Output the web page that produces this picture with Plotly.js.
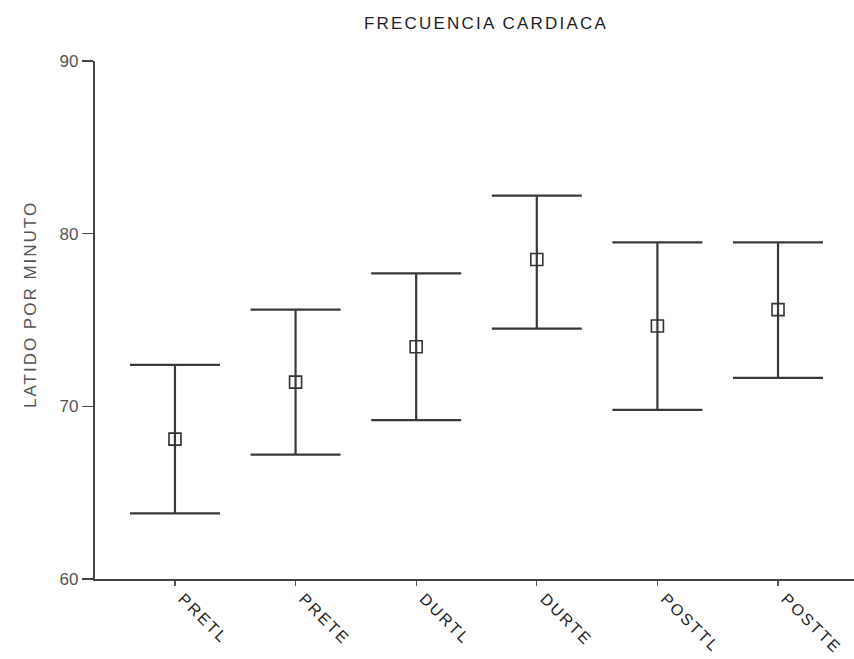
<!DOCTYPE html>
<html>
<head>
<meta charset="utf-8">
<script src="https://cdn.plot.ly/plotly-3.0.1.min.js"></script>
<style>
html,body{margin:0;padding:0;background:#fff;}
#chart{width:854px;height:659px;}
#chart .gtitle{letter-spacing:2.2px;}
#chart .xtick text{letter-spacing:2.2px;}
#chart .annotation-text{letter-spacing:2.0px;}
</style>
</head>
<body>
<div id="chart"></div>
<script>
const categories = ["PRETL", "PRETE", "DURTL", "DURTE", "POSTTL", "POSTTE"];
const means = [68.1, 71.4, 73.45, 78.5, 74.65, 75.6];
const upper = [72.4, 75.6, 77.7, 82.2, 79.5, 79.5];
const lower = [63.8, 67.2, 69.2, 74.5, 69.8, 71.65];
const yTicks = [60, 70, 80, 90];

const xIdx = categories.map((c, i) => i);
const errPlus = upper.map((u, i) => u - means[i]);
const errMinus = lower.map((l, i) => means[i] - l);

const trace = {
  type: "scatter",
  mode: "markers",
  x: xIdx,
  y: means,
  marker: {symbol: "square-open", size: 12, color: "#333", line: {width: 1.6, color: "#333"}},
  error_y: {
    type: "data", symmetric: false, array: errPlus, arrayminus: errMinus,
    color: "#3a3a3a", thickness: 2.2, width: 45
  },
  hoverinfo: "none"
};

const fam = "Liberation Sans, Arial, sans-serif";

const layout = {
  width: 854, height: 659,
  margin: {l: 95, r: 0, t: 61, b: 80},
  paper_bgcolor: "#fff", plot_bgcolor: "#fff",
  showlegend: false,
  font: {family: fam, color: "#444", size: 14},
  title: {
    text: "FRECUENCIA CARDIACA",
    font: {family: fam, size: 17, color: "#1e1e1e"},
    xref: "container", x: 486/854, xanchor: "center",
    yref: "container", y: 1 - 23.5/659, yanchor: "middle"
  },
  xaxis: {
    range: [-0.663, 5.63],
    tickvals: xIdx, ticktext: categories,
    tickangle: 45,
    ticks: "outside", ticklen: 5, tickwidth: 1.2, tickcolor: "#555",
    ticklabelshift: 8, ticklabelstandoff: -3,
    showline: true, linecolor: "#444", linewidth: 2.2,
    showgrid: false, zeroline: false,
    tickfont: {family: fam, size: 16, color: "#222"}
  },
  yaxis: {
    range: [60, 90],
    tickvals: yTicks, ticktext: yTicks.map(String),
    ticks: "outside", ticklen: 11, tickwidth: 1.5, tickcolor: "#444",
    showline: true, linecolor: "#444", linewidth: 2.2,
    showgrid: false, zeroline: false,
    tickfont: {family: fam, size: 17, color: "#555"}
  },
  annotations: [{
    text: "LATIDO POR MINUTO",
    textangle: -90,
    xref: "paper", yref: "paper",
    x: (30 - 95) / 759, y: (579 - 305) / 518,
    xanchor: "center", yanchor: "middle",
    showarrow: false,
    font: {family: fam, size: 17, color: "#555"}
  }]
};

Plotly.newPlot("chart", [trace], layout, {displayModeBar: false, staticPlot: true});
</script>
</body>
</html>
